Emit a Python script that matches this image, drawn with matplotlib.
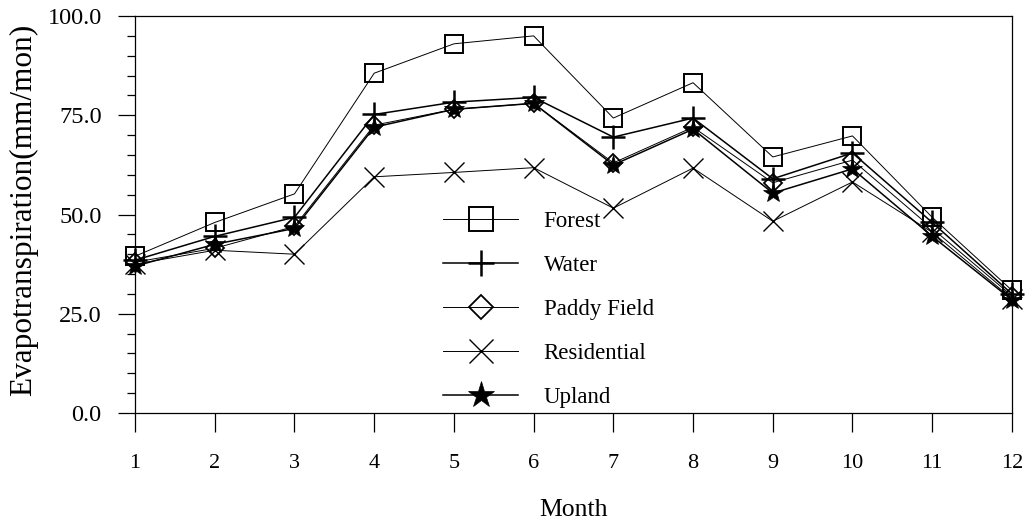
import matplotlib
matplotlib.use("Agg")
import matplotlib.pyplot as plt
from matplotlib.ticker import MultipleLocator, FormatStrFormatter

# ── data ────────────────────────────────────────────────────────────────────
months = [1, 2, 3, 4, 5, 6, 7, 8, 9, 10, 11, 12]

forest      = [39.5, 48.0, 55.2, 85.6, 93.0, 95.0, 74.3, 83.2, 64.5, 69.8, 49.3, 30.9]
water       = [38.5, 44.5, 49.3, 75.2, 78.3, 79.5, 69.5, 74.3, 59.0, 65.5, 48.0, 30.0]
paddy       = [38.0, 41.5, 47.0, 72.5, 76.5, 78.0, 63.0, 72.0, 58.0, 63.7, 46.5, 29.5]
residential = [37.5, 41.0, 40.0, 59.5, 60.6, 61.8, 51.6, 61.7, 48.3, 58.2, 45.5, 28.8]
upland      = [37.0, 42.5, 46.5, 72.0, 76.5, 78.0, 62.5, 71.5, 55.4, 61.5, 44.5, 28.5]

names = ["Forest", "Water", "Paddy Field", "Residential", "Upland"]
values = [forest, water, paddy, residential, upland]

# plot style, legend marker size
styles = [
    (dict(marker="s", ms=13, mfc="none", mew=1.4, lw=0.7), 17),
    (dict(marker="+", ms=17, mew=1.8, lw=1.1), 19),
    (dict(marker="D", ms=9,  mfc="none", mew=1.3, lw=0.7), 12),
    (dict(marker="x", ms=14, mew=1.0, lw=0.7), 17),
    (dict(marker="*", ms=15, mew=0.5, lw=1.1), 20),
]

plt.rcParams["font.family"] = ["Liberation Serif", "DejaVu Serif"]

fig = plt.figure(figsize=(10.31, 5.22), dpi=100)
ax = fig.add_axes([0.131, 0.2088, 0.8505, 0.7605])

for name, vals, (style, _) in zip(names, values, styles):
    ax.plot(months, vals, color="black", label=name, clip_on=False, **style)

ax.set_xlim(1, 12)
ax.set_ylim(0, 100)
ax.set_xticks(months)
ax.yaxis.set_major_locator(MultipleLocator(25))
ax.yaxis.set_minor_locator(MultipleLocator(5))
ax.yaxis.set_major_formatter(FormatStrFormatter("%.1f"))

ax.tick_params(axis="x", direction="out", length=13.5, width=0.9, pad=16, labelsize=16)
ax.tick_params(axis="y", which="major", direction="out", length=12, width=0.9, pad=12, labelsize=17.5)
ax.tick_params(axis="y", which="minor", direction="out", length=5.5, width=0.9)
for sp in ax.spines.values():
    sp.set_linewidth(0.9)

ax.set_xlabel("Month", fontsize=18.5, labelpad=19)
ax.set_ylabel("Evapotranspiration(mm/mon)", fontsize=22.5)
ax.yaxis.set_label_coords(-0.111, 0.511)

leg = ax.legend(loc="upper left", bbox_to_anchor=(0.351, 0.51), frameon=False,
                fontsize=16.5, handlelength=3.3, handletextpad=1.1, labelspacing=1.01,
                borderpad=0, borderaxespad=0)
for h, (_, lms) in zip(leg.legend_handles, styles):
    h.set_markersize(lms)

fig.savefig("out.png", dpi=100)
